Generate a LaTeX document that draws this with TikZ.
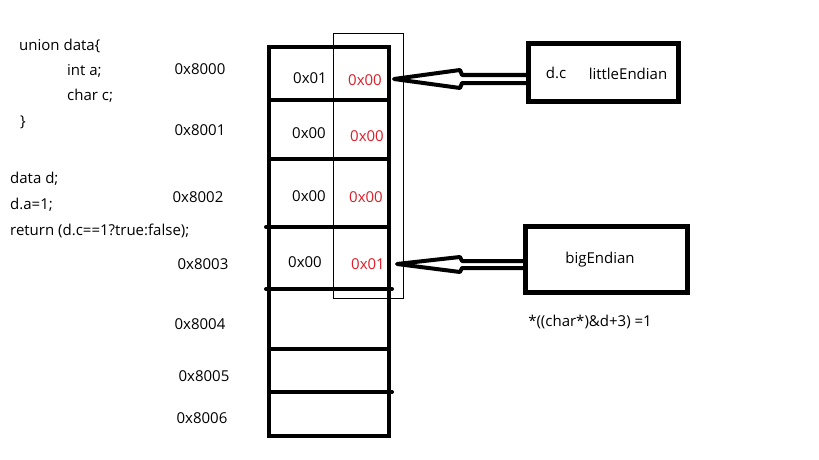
\documentclass[tikz,border=0pt]{standalone}
\usepackage{fontspec}
\setmainfont{Open Sans}
\begin{document}
\begin{tikzpicture}[x=1pt,y=-1pt,
  txt/.style={inner sep=0pt, font=\fontsize{15}{17}\selectfont},
  code/.style={txt, anchor=west},
  red/.style={txt, text={rgb,255:red,220;green,30;blue,40}},
  thick4/.style={line width=4pt},
  endbox/.style={draw, line width=4.5pt, inner sep=0pt},
  hollow/.style={line width=4pt, line join=round, line cap=round}]
\useasboundingbox[fill=white] (0,0) rectangle (819,460);
% code text
\node[code] (c1) at (19,46) {union data\{};
\node[code] (c2) at (67,71) {int a;};
\node[code] (c3) at (67,96) {char c;};
\node[code] (c4) at (20,122) {\}};
\node[code] (c5) at (10,179) {data d;};
\node[code] (c6) at (10,205) {d.a=1;};
\node[code] (c7) at (10,231) {return (d.c==1?true:false);};
% addresses
\node[txt] (a0) at (200,69) {0x8000};
\node[txt] (a1) at (200,130) {0x8001};
\node[txt] (a2) at (198,197) {0x8002};
\node[txt] (a3) at (203,264) {0x8003};
\node[txt] (a4) at (200,324) {0x8004};
\node[txt] (a5) at (204,376) {0x8005};
\node[txt] (a6) at (202,418) {0x8006};
% thin rectangle
\draw[line width=0.8pt] (333,33) rectangle (403,298);
% memory box
\draw[thick4] (269,47) -- (389,47);
\draw[thick4] (269,45) -- (269,438);
\draw[thick4] (389,45) -- (389,438);
\draw[thick4] (267,436) -- (391,436);
\draw[thick4] (269,100) -- (389,100);
\draw[thick4] (269,159) -- (389,159);
\draw[thick4, line cap=round] (266,227) -- (389,227);
\draw[thick4, line cap=round] (266,289) -- (392,289);
\draw[thick4] (269,349) -- (389,349);
\draw[thick4, line cap=round] (269,392) -- (392,392);
% cell values
\node[txt] (v00) at (310,78) {0x01};
\node[red] (v01) at (365,80) {0x00};
\node[txt] (v10) at (309,133) {0x00};
\node[red] (v11) at (367,136) {0x00};
\node[txt] (v20) at (309,196) {0x00};
\node[red] (v21) at (366,197) {0x00};
\node[txt] (v30) at (305,262) {0x00};
\node[red] (v31) at (368,264) {0x01};
% endian boxes
\node[endbox, minimum width=150pt, minimum height=58pt] (little) at (603.5,72.5) {};
\node[txt] (dc) at (556,73) {d.c};
\node[txt] (le) at (628,74) {littleEndian};
\node[endbox, minimum width=162pt, minimum height=66pt] (big) at (606.5,259.5) {};
\node[txt] (be) at (600,260) {bigEndian};
\node[txt] (expr) at (590,322) {*((char*)\&d+3) =1};
% hollow arrows
\coordinate (t1) at (394,79);
\coordinate (t2) at (397,264);
\draw[hollow] (little.west |- 0,75) -- (462,75) -- (460,70) -- (t1) -- (460,88) -- (462,83) -- (little.west |- 0,83);
\draw[hollow] (big.west |- 0,261) -- (462,261) -- (460,257) -- (t2) -- (460,272) -- (462,268) -- (big.west |- 0,268);
\end{tikzpicture}
\end{document}
